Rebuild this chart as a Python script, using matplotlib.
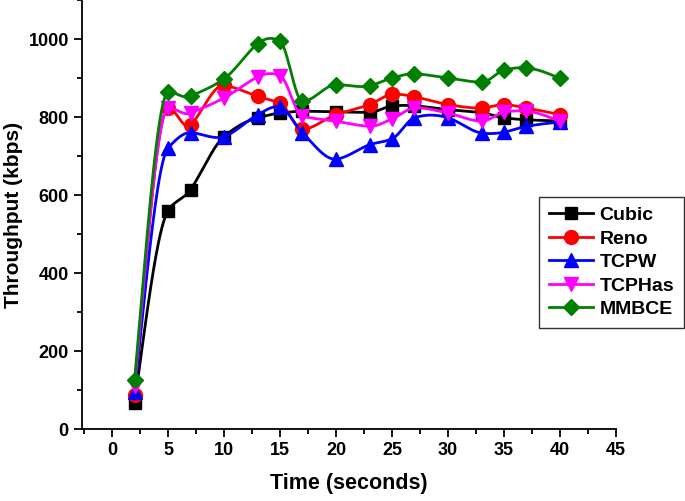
import numpy as np
import matplotlib
matplotlib.use("Agg")
import matplotlib.pyplot as plt
from matplotlib.ticker import MultipleLocator

plt.rcParams['font.family'] = ['Liberation Sans', 'DejaVu Sans']
plt.rcParams['font.weight'] = 'bold'

time_s = [2, 5, 7, 10, 13, 15, 17, 20, 23, 25, 27, 30, 33, 35, 37, 40]
cubic = [67, 560, 614, 750, 798, 810, 815, 813, 812, 828, 829, 819, 811, 798, 793, 790]
reno = [87, 824, 780, 881, 853, 835, 768, 806, 832, 858, 852, 832, 823, 832, 823, 806]
tcpw = [96, 721, 760, 750, 806, 826, 759, 692, 729, 744, 798, 798, 759, 761, 776, 786]
tcphas = [109, 823, 810, 849, 903, 906, 802, 789, 776, 795, 823, 810, 789, 812, 815, 789]
mmbce = [126, 863, 853, 898, 988, 994, 840, 883, 880, 900, 911, 900, 889, 920, 926, 899]

series = [
    ("Cubic", cubic, "black", "s", 8.5),
    ("Reno", reno, "red", "o", 10),
    ("TCPW", tcpw, "blue", "^", 10),
    ("TCPHas", tcphas, "magenta", "v", 10),
    ("MMBCE", mmbce, "green", "D", 8.5),
]


def smooth(x, y, n=500):
    # modified akima cubic through the points
    x = np.asarray(x, float)
    y = np.asarray(y, float)
    h = np.diff(x)
    d = np.diff(y) / h
    k = len(x)
    dd = np.concatenate([[3 * d[0] - 2 * d[1], 2 * d[0] - d[1]], d,
                         [2 * d[-1] - d[-2], 3 * d[-1] - 2 * d[-2]]])
    m = np.zeros(k)
    for i in range(k):
        a, b, c, e = dd[i], dd[i + 1], dd[i + 2], dd[i + 3]
        w1 = abs(e - c) + abs(e + c) / 2
        w2 = abs(b - a) + abs(b + a) / 2
        if w1 + w2 == 0:
            m[i] = (b + c) / 2
        else:
            m[i] = (w1 * b + w2 * c) / (w1 + w2)
    xs = np.linspace(x[0], x[-1], n)
    idx = np.clip(np.searchsorted(x, xs) - 1, 0, k - 2)
    hh = h[idx]
    t = (xs - x[idx]) / hh
    h00 = 2 * t ** 3 - 3 * t ** 2 + 1
    h10 = t ** 3 - 2 * t ** 2 + t
    h01 = -2 * t ** 3 + 3 * t ** 2
    h11 = t ** 3 - t ** 2
    ys = h00 * y[idx] + h10 * hh * m[idx] + h01 * y[idx + 1] + h11 * hh * m[idx + 1]
    return xs, ys


fig = plt.figure(figsize=(6.85, 5.01), dpi=100)
ax = fig.add_axes([0.1197, 0.1437, 0.7793, 0.8563])

for name, vals, col, mk, ms in series:
    xs, ys = smooth(time_s, vals)
    ax.plot(xs, ys, color=col, lw=2)
    ax.plot(time_s, vals, linestyle='none', marker=mk, color=col, markersize=ms)
    ax.plot([], [], color=col, lw=2, marker=mk, markersize=ms, label=name)

ax.set_xlim(-2.7, 45)
ax.set_ylim(0, 1100)
ax.xaxis.set_minor_locator(MultipleLocator(2.5))
ax.yaxis.set_minor_locator(MultipleLocator(100))
ax.set_xticks(range(0, 50, 5))
ax.set_yticks(range(0, 1001, 200))
for s in ['top', 'right']:
    ax.spines[s].set_visible(False)
for s in ['left', 'bottom']:
    ax.spines[s].set_linewidth(1.3)
ax.tick_params(which='major', direction='out', length=6, width=1.3, labelsize=13)
ax.tick_params(which='minor', direction='out', length=3.5, width=1.3)
for lab in ax.get_xticklabels() + ax.get_yticklabels():
    lab.set_fontweight('bold')

ax.set_xlabel("Time (seconds)", fontsize=15.5, fontweight='bold', labelpad=10)
ax.set_ylabel("Throughput (kbps)", fontsize=15, fontweight='bold', labelpad=4)

leg = ax.legend(loc='upper right', bbox_to_anchor=(0.998, 0.607),
                bbox_transform=fig.transFigure, frameon=True, fancybox=False,
                edgecolor='black', prop={'weight': 'bold', 'size': 14},
                handlelength=2.3, handletextpad=0.3, borderpad=0.5,
                labelspacing=0.3, borderaxespad=0)
leg.get_frame().set_linewidth(1.0)
leg.set_clip_on(False)

fig.savefig("out.png", dpi=100)
